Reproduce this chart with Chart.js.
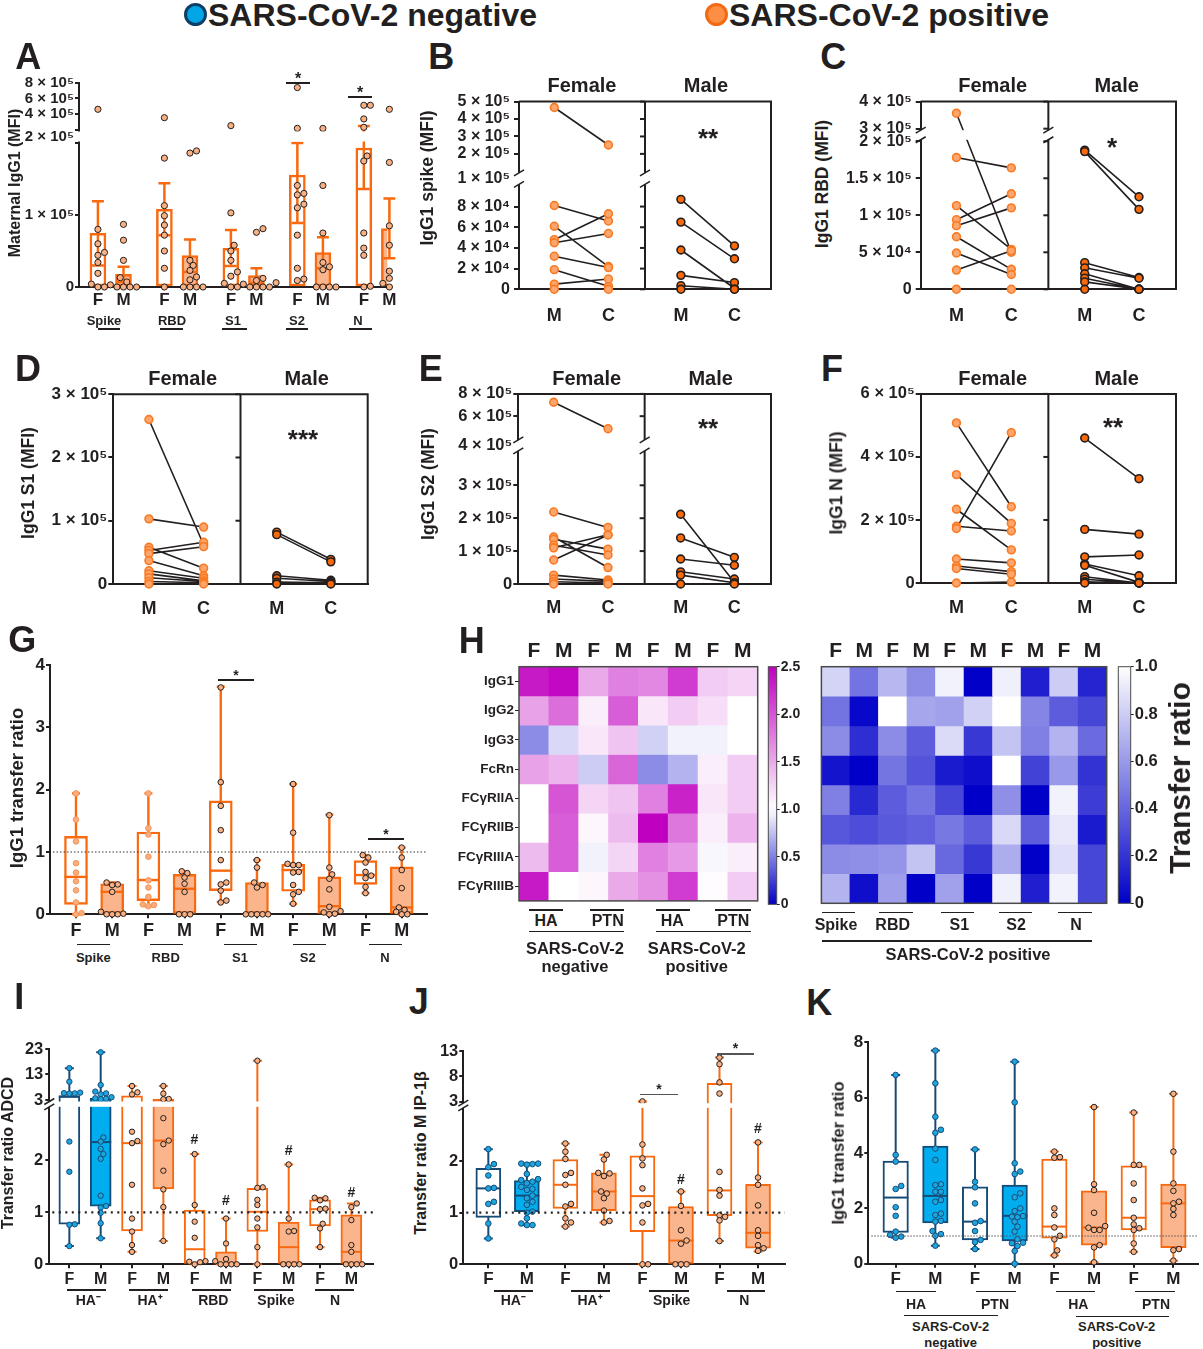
<!DOCTYPE html>
<html>
<head>
<meta charset="utf-8">
<title>Maternal IgG1 transfer</title>
<script src="https://cdn.jsdelivr.net/npm/chart.js@4.4.1/dist/chart.umd.min.js"></script>
<style>
  html, body { margin: 0; padding: 0; background: #fff; }
  body { position: relative; width: 1203px; height: 1349px; overflow: hidden;
         font-family: 'Liberation Sans', Arial, sans-serif; font-weight: bold; color: #231f20; }
  canvas { position: absolute; }
  .t { position: absolute; white-space: nowrap; line-height: 1; }
</style>
</head>
<body>
<script>
// ---------- panel A: maternal IgG1 (mean bar, error caps, donors)
const aAntigens = ['Spike', 'RBD', 'S1', 'S2', 'N'];
const aMean = [74600, 17600, 108000, 43500, 53700, 16000, 155500, 47700, 193000, 81000];
const aErrHi = [119000, 28000, 144000, 66000, 79000, 26000, 200000, 69000, 250000, 123000];
const aErrLo = [30000, 7000, 72000, 21000, 29000, 6000, 89000, 26000, 136000, 40000];
const aPoints = [
  [462000, 80000, 60000, 48000, 44000, 34000, 19000, 4000, 0, 0],
  [87000, 65000, 37000, 13000, 7000, 3000, 0, 0, 0, 0],
  [356000, 179000, 113000, 99000, 86000, 72000, 50000, 26000, 0],
  [189000, 186000, 37000, 30000, 23000, 14000, 10000, 0, 0, 0, 0],
  [255000, 103000, 58000, 50000, 37000, 21000, 15000, 5000, 0, 0],
  [81000, 76000, 12000, 9000, 6000, 4000, 0, 0, 0, 0],
  [737000, 221000, 141000, 130000, 128000, 115000, 110000, 72000, 26000, 11000, 9000],
  [220000, 141000, 75000, 34000, 28000, 24000, 0, 0, 0, 0],
  [513000, 513000, 340000, 234000, 182000, 175000, 75000, 54000, 44000, 1000, 0],
  [462000, 173000, 85000, 65000, 58000, 22000, 16000, 12000, 5000, 0, 0]
];
const aTicks = [[0, '0'], [1e5, '1 × 10⁵'], [2e5, ''], [150.5, '2 × 10⁵', 'g'], [157, '', 'd'], [4e5, '4 × 10⁵'], [6e5, '6 × 10⁵'], [8e5, '8 × 10⁵']];

// ---------- panels B-F: maternal (M) vs cord (C), paired
const pairLabels = ['M', 'C', 'M', 'C'];
const bFemM = [466000, 81000, 61000, 48000, 45000, 32000, 19000, 5000, 0];
const bFemC = [251000, 66000, 22000, 73000, 54000, 21000, 3000, 10000, 0];
const bMalM = [87000, 65000, 38000, 13500, 3500, 0];
const bMalC = [42000, 29500, 1000, 6500, 0, 0];
const bTicks = [[0, '0'], [2e4, '2 × 10⁴'], [4e4, '4 × 10⁴'], [6e4, '6 × 10⁴'], [8e4, '8 × 10⁴'], [111.7, '1 × 10⁵', 'g'], [2e5, '2 × 10⁵'], [3e5, '3 × 10⁵'], [4e5, '4 × 10⁵'], [5e5, '5 × 10⁵']];

const cFemM = [357000, 178000, 113000, 94000, 86000, 71000, 49000, 26000, 0];
const cFemC = [50000, 164000, 54000, 129000, 110000, 27000, 20000, 52000, 0];
const cMalM = [188000, 186000, 36000, 29000, 21000, 15000, 10000, 0];
const cMalC = [125000, 108000, 16000, 15000, 0, 0, 0, 0];
const cTicks = [[0, '0'], [5e4, '5 × 10⁴'], [1e5, '1 × 10⁵'], [1.5e5, '1.5 × 10⁵'], [2e5, '2 × 10⁵'], [3e5, '3 × 10⁵'], [4e5, '4 × 10⁵']];

const dFemM = [260000, 103000, 58000, 53000, 48000, 37000, 21000, 16000, 10000, 4000, 0];
const dFemC = [62000, 90000, 25000, 66000, 59000, 13000, 9000, 5000, 4000, 2000, 0];
const dMalM = [82000, 78000, 13000, 9000, 3000, 0];
const dMalC = [39000, 35000, 6000, 4000, 2000, 0];
const dTicks = [[0, '0'], [1e5, '1 × 10⁵'], [2e5, '2 × 10⁵'], [3e5, '3 × 10⁵']];

const eFemM = [725000, 219000, 143000, 136000, 118000, 110000, 73000, 27000, 15000, 7000, 0];
const eFemC = [487000, 172000, 50000, 106000, 88000, 150000, 149000, 12000, 8000, 3000, 0];
const eMalM = [212000, 140000, 76000, 37000, 27000, 0];
const eMalC = [5000, 81000, 57000, 15000, 4000, 0];
const eTicks = [[0, '0'], [1e5, '1 × 10⁵'], [2e5, '2 × 10⁵'], [3e5, '3 × 10⁵'], [139, '4 × 10⁵', 'g'], [6e5, '6 × 10⁵'], [8e5, '8 × 10⁵']];

const fFemM = [508000, 344000, 234000, 180000, 173000, 76000, 54000, 46000, 0];
const fFemC = [242000, 189000, 105000, 165000, 477000, 64000, 36000, 28000, 3000];
const fMalM = [460000, 170000, 83000, 60000, 56000, 20000, 12000, 4000, 0];
const fMalC = [331000, 155000, 89000, 23000, 2000, 0, 0, 0, 0];
const fTicks = [[0, '0'], [2e5, '2 × 10⁵'], [4e5, '4 × 10⁵'], [6e5, '6 × 10⁵']];

// ---------- panel G: IgG1 transfer ratio, box = [min, q1, median, q3, max]
const gAntigens = ['Spike', 'RBD', 'S1', 'S2', 'N'];
const gBoxes = [
  [0, 0.16, 0.60, 1.25, 1.94], [0, 0, 0.36, 0.49, 0.51],
  [0.13, 0.22, 0.55, 1.32, 1.94], [0, 0, 0.41, 0.64, 0.69],
  [0.20, 0.38, 0.70, 1.82, 3.65], [0, 0, 0, 0.51, 0.87],
  [0.17, 0.37, 0.71, 0.80, 2.09], [0, 0, 0.13, 0.60, 1.60],
  [0.34, 0.48, 0.63, 0.86, 0.95], [0, 0, 0.11, 0.76, 1.07]
];
const gPoints = [
  [1.94, 1.52, 1.17, 0.82, 0.67, 0.53, 0.385, 0.19, 0.02, 0],
  [0.51, 0.48, 0.47, 0.36, 0.04, 0.01, 0, 0, 0],
  [1.94, 1.38, 1.28, 0.925, 0.545, 0.43, 0.28, 0.16, 0.15, 0.13],
  [0.69, 0.66, 0.59, 0.49, 0.36, 0, 0, 0],
  [3.64, 2.12, 1.74, 1.35, 0.87, 0.51, 0.48, 0.38, 0.22, 0.19],
  [0.87, 0.75, 0.51, 0.47, 0.43, 0, 0, 0, 0, 0],
  [2.09, 1.31, 0.81, 0.79, 0.79, 0.68, 0.67, 0.47, 0.36, 0.32, 0.17],
  [1.59, 0.75, 0.64, 0.57, 0.40, 0.12, 0.05, 0.03, 0.01, 0],
  [0.95, 0.91, 0.83, 0.68, 0.62, 0.58, 0.44, 0.34],
  [1.07, 0.91, 0.71, 0.42, 0.11, 0.07, 0.04, 0, 0]
];
const gTicks = [[0, '0'], [1, '1'], [2, '2'], [3, '3'], [4, '4']];

// ---------- panel H: heatmaps of transfer ratio
const hRows = ['IgG1', 'IgG2', 'IgG3', 'FcRn', 'FCγRIIA', 'FCγRIIB', 'FCγRIIIA', 'FCγRIIIB'];
const hLeftCols = ['F', 'M', 'F', 'M', 'F', 'M', 'F', 'M'];
const hLeftVals = [
  [2.35, 2.45, 1.50, 1.75, 1.70, 2.15, 1.30, 1.25],
  [1.55, 1.85, 1.10, 1.95, 1.15, 1.30, 1.20, 1.00],
  [0.55, 0.85, 1.15, 1.35, 0.82, 0.95, 0.95, 1.00],
  [1.55, 1.45, 0.80, 1.90, 0.55, 0.70, 1.10, 1.30],
  [1.00, 2.00, 1.25, 1.35, 1.75, 2.30, 1.15, 1.30],
  [1.00, 1.95, 1.05, 1.40, 2.50, 1.80, 1.10, 1.45],
  [1.40, 1.95, 0.95, 1.25, 1.75, 1.60, 0.97, 1.10],
  [2.35, 1.00, 1.05, 1.50, 1.65, 2.15, 1.02, 1.30]
];
const hRightCols = ['F', 'M', 'F', 'M', 'F', 'M', 'F', 'M', 'F', 'M'];
const hRightVals = [
  [0.83, 0.45, 0.72, 0.55, 0.95, 0.00, 0.94, 0.12, 0.80, 0.14],
  [0.45, 0.03, 1.00, 0.65, 0.63, 0.82, 1.00, 0.52, 0.36, 0.28],
  [0.55, 0.18, 0.55, 0.36, 0.86, 0.22, 0.77, 0.50, 0.70, 0.42],
  [0.08, 0.00, 0.46, 0.33, 0.10, 0.06, 1.00, 0.26, 0.60, 0.20],
  [0.50, 0.16, 0.36, 0.45, 0.28, 0.00, 0.56, 0.00, 0.95, 0.24],
  [0.34, 0.30, 0.35, 0.38, 0.47, 0.36, 0.85, 0.36, 0.91, 0.10],
  [0.55, 0.56, 0.58, 0.77, 0.41, 0.22, 0.68, 0.00, 0.87, 0.28],
  [0.70, 0.06, 0.62, 0.00, 0.63, 0.00, 0.94, 0.12, 0.95, 0.28]
];

// ---------- panel I: transfer ratio ADCD
const iGroups = ['HA⁻', 'HA⁺', 'RBD', 'Spike', 'N'];
const iBoxes = [
  [0.35, 0.77, 4.4, 4.5, 15.5], [0.5, 1.12, 2.35, 3.66, 21.7],
  [0.24, 0.64, 2.33, 4.6, 8.5], [0.45, 1.45, 2.38, 3.26, 8.5],
  [0, 0, 0.29, 1.045, 2.12], [0, 0, 0, 0.24, 0.88],
  [0, 0.63, 1.01, 1.46, 18.4], [0, 0, 0.33, 0.81, 1.92],
  [0.33, 0.74, 1.06, 1.24, 1.28], [0, 0, 0.24, 0.95, 1.17]
];
const iPoints = [
  [15.5, 10.2, 5.9, 5.6, 5.5, 5.7, 2.36, 1.78, 0.77, 0.76, 0.35],
  [21.7, 8.9, 6.3, 5.6, 5.2, 4.1, 3.66, 3.5, 3.3, 2.44, 2.36, 2.22, 2.12, 2.03, 1.32, 1.12, 1.09, 0.99, 0.79, 0.5],
  [8.5, 6.0, 5.2, 2.55, 2.37, 2.33, 1.53, 0.88, 0.63, 0.37, 0.24],
  [8.5, 5.5, 3.4, 3.3, 2.81, 2.38, 2.31, 1.8, 1.44, 1.1, 0.45],
  [2.12, 1.14, 0.82, 0.51, 0.06, 0.05, 0.04, 0],
  [0.88, 0.4, 0.1, 0.06, 0, 0, 0, 0],
  [18.4, 1.48, 1.47, 1.24, 1.14, 0.88, 0.71, 0.33, 0],
  [1.92, 0.88, 0.64, 0.63, 0, 0, 0, 0],
  [1.28, 1.27, 1.23, 1.07, 1.06, 0.78, 0.69, 0.33],
  [1.17, 1.1, 0.85, 0.37, 0.24, 0, 0, 0, 0]
];
const iTicks = [[0, '0'], [1, '1'], [2, '2'], [164.3, '3', 'd'], [13, '13'], [23, '23']];

// ---------- panel J: transfer ratio MIP-1β
const jGroups = ['HA⁻', 'HA⁺', 'Spike', 'N'];
const jBoxes = [
  [0.5, 0.91, 1.47, 1.86, 2.23], [0.76, 1.02, 1.33, 1.62, 1.95],
  [0.73, 1.08, 1.54, 2.03, 2.34], [0.81, 1.04, 1.41, 1.77, 2.12],
  [0, 0.63, 1.32, 2.1, 3.05], [0, 0, 0.46, 1.12, 1.41],
  [0.45, 0.94, 1.43, 6.6, 11.7], [0.25, 0.31, 0.61, 1.55, 2.36]
];
const jPoints = [
  [2.23, 1.94, 1.88, 1.72, 1.48, 1.47, 1.21, 1.17, 0.79, 0.5],
  [1.95, 1.95, 1.94, 1.93, 1.75, 1.65, 1.63, 1.6, 1.57, 1.5, 1.46, 1.44, 1.33, 1.28, 1.21, 1.15, 1.02, 1.0, 0.89, 0.79, 0.76, 0.76],
  [2.34, 2.18, 2.04, 1.77, 1.73, 1.54, 1.17, 1.12, 0.89, 0.81, 0.73],
  [2.12, 2.03, 1.77, 1.76, 1.71, 1.41, 1.37, 1.28, 1.04, 0.84, 0.81],
  [3.05, 2.32, 2.05, 1.92, 1.47, 1.17, 1.14, 0.81, 0, 0],
  [1.41, 1.13, 0.66, 0.46, 0.4, 0, 0, 0],
  [11.7, 10.4, 6.8, 4.6, 1.79, 1.44, 1.33, 0.95, 0.92, 0.85, 0.45],
  [2.36, 1.68, 1.54, 1.14, 0.66, 0.55, 0.37, 0.31, 0.26]
];
const jTicks = [[0, '0'], [1, '1'], [2, '2'], [162.7, '3', 'd'], [8, '8'], [13, '13']];

// ---------- panel K: IgG1 transfer ratio, HA / PTN
const kGroups = ['HA', 'PTN', 'HA', 'PTN'];
const kBoxes = [
  [0.94, 1.13, 2.39, 3.71, 6.82], [0.65, 1.47, 2.45, 4.25, 7.7],
  [0.53, 0.86, 1.52, 2.78, 4.13], [0, 0.82, 1.73, 2.84, 7.3],
  [0.3, 0.92, 1.34, 3.78, 4.05], [0.05, 0.67, 1.31, 2.63, 5.66],
  [0.43, 1.22, 1.66, 3.54, 5.46], [0.11, 0.58, 2.18, 2.88, 6.14]
];
const kPoints = [
  [6.82, 3.93, 3.69, 2.81, 2.7, 2.04, 1.73, 1.16, 1.04, 0.98, 0.94],
  [7.7, 6.52, 5.31, 4.84, 4.73, 4.16, 3.75, 2.87, 2.84, 2.6, 2.6, 2.3, 2.24, 1.81, 1.76, 1.55, 1.52, 1.18, 1.07, 1.01, 0.65],
  [4.13, 2.96, 2.76, 2.18, 1.54, 1.48, 1.18, 0.86, 0.78, 0.53],
  [7.3, 5.83, 3.63, 3.33, 3.24, 2.54, 2.4, 2.0, 1.9, 1.72, 1.7, 1.68, 1.52, 1.34, 1.16, 0.88, 0.76, 0.74, 0.64, 0.46, 0],
  [4.05, 3.83, 3.85, 2.0, 1.76, 1.31, 1.01, 0.88, 0.48, 0.3],
  [5.66, 2.87, 2.66, 1.84, 1.36, 1.3, 1.22, 1.22, 0.67, 0.59, 0.05],
  [5.46, 3.57, 3.57, 2.9, 2.3, 1.66, 1.42, 1.28, 1.22, 0.73, 0.43],
  [6.14, 4.05, 2.9, 2.63, 2.24, 2.18, 1.98, 1.76, 0.53, 0.49, 0.11]
];
const kTicks = [[0, '0'], [2, '2'], [4, '4'], [6, '6'], [8, '8']];

// ---------- colours
const INK = '#231f20';
const ORANGE = '#F96A10';
const LIGHT = '#FBB58D';
const PT_FILL = '#F9B184';
const PALE_PT = '#F9AC7C';
const PALE_EDGE = '#F5955A';
const NAVY = '#174B77';
const BLUE = '#00AEEF';
const BLUE_PT = '#1DA6DE';
const FEM_FILL = '#FBA66E';
const FEM_EDGE = '#FA7A22';
const MAL_FILL = '#F86A0C';
const DEEP = [0, 0, 200], WHITE = [255, 255, 255], MAG = [192, 0, 192];

Chart.defaults.font.family = "'Liberation Sans', Arial, sans-serif";
Chart.defaults.font.weight = 'bold';
Chart.defaults.color = INK;

function mix(a, b, t) {
  t = Math.max(0, Math.min(1, t));
  return 'rgb(' + a.map((v, i) => Math.round(v + (b[i] - v) * t)).join(',') + ')';
}
function heatLeft(v) { return v <= 1 ? mix(DEEP, WHITE, v) : mix(WHITE, MAG, (v - 1) / 1.5); }
function heatRight(v) { return mix(DEEP, WHITE, v); }

// piecewise value -> pixel-units mapping for broken axes
function mapper(segs) {
  return v => {
    let s = segs[segs.length - 1];
    for (const q of segs) { if (v <= q[1]) { s = q; break; } }
    return s[2] + (v - s[0]) / (s[1] - s[0]) * (s[3] - s[2]);
  };
}
const lin = v => v;

// decorations: frames, axis breaks, reference line, colour bars
const deco = {
  id: 'deco',
  beforeDatasetsDraw(chart) {
    const o = chart.canvas._deco;
    if (!o || !o.gradient) return;
    const { ctx, chartArea: a } = chart;
    const g = ctx.createLinearGradient(0, a.bottom, 0, a.top);
    for (let i = 0; i <= 24; i++) g.addColorStop(i / 24, o.gradient(i / 24 * o.gmax));
    ctx.fillStyle = g;
    ctx.fillRect(a.left, a.top, a.right - a.left, a.bottom - a.top);
  },
  afterDatasetsDraw(chart) {
    const o = chart.canvas._deco;
    if (!o) return;
    const { ctx, chartArea: a } = chart;
    const x = chart.scales.x, y = chart.scales.y;
    ctx.save();
    if (o.hline !== undefined) {
      const py = y.getPixelForValue(o.hline);
      ctx.strokeStyle = o.hlColor; ctx.lineWidth = o.hlW; ctx.setLineDash(o.hlDash);
      ctx.beginPath(); ctx.moveTo(a.left + 3, py); ctx.lineTo(a.right, py); ctx.stroke();
      ctx.setLineDash([]);
    }
    const gaps = (o.gaps || []).map(g => [y.getPixelForValue(g[0]), y.getPixelForValue(g[1])]);
    gaps.forEach(([p0, p1]) => {
      ctx.fillStyle = '#fff';
      const right = o.frame ? a.right - 1.5 : a.right + 2;
      ctx.fillRect(a.left - 3, p1 + 1.5, right - a.left + 3, p0 - p1 - 3);
    });
    ctx.strokeStyle = INK; ctx.lineWidth = 2;
    if (o.frame) {
      ctx.beginPath(); ctx.moveTo(a.left, a.top); ctx.lineTo(a.right, a.top); ctx.lineTo(a.right, a.bottom); ctx.stroke();
      const dx = x.getPixelForValue(o.divider);
      let segs = [[a.top, a.bottom]];
      gaps.forEach(([p0, p1]) => { segs = [[a.top, p1 + 1.5], [p0 - 1.5, a.bottom]]; });
      segs.forEach(s => { ctx.beginPath(); ctx.moveTo(dx, s[0]); ctx.lineTo(dx, s[1]); ctx.stroke(); });
      y.ticks.forEach(t => {
        if (t.nm) return;
        const py = y.getPixelForValue(t.value);
        ctx.beginPath(); ctx.moveTo(dx - 5, py); ctx.lineTo(dx, py); ctx.stroke();
      });
    }
    if (o.box) {
      ctx.strokeStyle = o.boxColor || INK; ctx.lineWidth = o.boxW || 1.5;
      ctx.strokeRect(a.left, a.top, a.right - a.left, a.bottom - a.top);
    }
    if (o.slash) {
      const xs = [a.left].concat(o.frame ? [x.getPixelForValue(o.divider)] : []);
      ctx.lineWidth = 1.5; ctx.strokeStyle = INK;
      gaps.forEach(([p0, p1]) => xs.forEach(px => [p0 - 1.5, p1 + 1.5].forEach(py => {
        ctx.beginPath(); ctx.moveTo(px - 5, py + 3); ctx.lineTo(px + 5, py - 3); ctx.stroke();
      })));
    }
    ctx.restore();
  }
};
Chart.register(deco);

// ---------- helpers
function canvasAt(b) {
  const c = document.createElement('canvas');
  c.width = b[2]; c.height = b[3];
  c.style.left = b[0] + 'px'; c.style.top = b[1] + 'px';
  document.body.appendChild(c);
  return c;
}
function geo(box, plot) {
  return {
    yW: plot[0] - box[0],
    xH: box[1] + box[3] - plot[3],
    padding: { left: 0, top: plot[1] - box[1], right: box[0] + box[2] - plot[2], bottom: 0 }
  };
}
function base(g, x, y) {
  return {
    responsive: false, animation: false, events: [],
    layout: { padding: g.padding },
    plugins: { legend: { display: false }, tooltip: { enabled: false } },
    scales: { x, y }
  };
}
function yAxis(max, list, map, w, size, tl, pad) {
  const objs = list.map(t => ({ value: t[2] ? t[0] : map(t[0]), lbl: t[1], nm: t[2] === 'g' }));
  return {
    type: 'linear', min: 0, max,
    afterBuildTicks: s => { s.ticks = objs.map(o => Object.assign({}, o)); },
    afterFit: s => { s.width = w; },
    ticks: { autoSkip: false, padding: pad, font: { size }, color: INK, callback: (v, i, t) => t[i].lbl },
    grid: { drawOnChartArea: false, drawTicks: true, tickLength: tl, lineWidth: 2,
            color: c => (c.tick && c.tick.nm) ? 'rgba(0,0,0,0)' : INK },
    border: { display: true, color: INK, width: 2 }
  };
}
function xAxis(min, max, pos, labels, h, size, tl, pad) {
  const objs = pos.map((p, i) => ({ value: p, lbl: labels[i] }));
  return {
    type: 'linear', min, max, offset: false,
    afterBuildTicks: s => { s.ticks = objs.map(o => Object.assign({}, o)); },
    afterFit: s => { s.height = h; },
    ticks: { autoSkip: false, maxRotation: 0, minRotation: 0, padding: pad, font: { size }, color: INK,
             callback: (v, i, t) => t[i].lbl },
    grid: { drawOnChartArea: false, drawTicks: tl > 0, tickLength: tl, lineWidth: 2, color: INK, offset: false },
    border: { display: true, color: INK, width: 2 }
  };
}
function gap(x) { return { x, y: null }; }
function lineDs(data, color, w, order) {
  return { type: 'line', data, borderColor: color, borderWidth: w, pointRadius: 0, fill: false,
           spanGaps: false, order, tension: 0, clip: false, borderCapStyle: 'butt' };
}
function ptDs(data, r, fill, stroke, bw) {
  return { type: 'line', showLine: false, data, pointRadius: r, pointBorderWidth: bw,
           pointBackgroundColor: fill, pointBorderColor: stroke, order: 1, clip: false };
}
// spread overlapping dots sideways (beeswarm), ys in pixels
function swarm(ys, dcol, pxX) {
  const order = ys.map((_, i) => i).sort((a, b) => ys[a] - ys[b]);
  const placed = [], off = ys.map(() => 0), step = dcol * 0.5;
  order.forEach(i => {
    for (let k = 0; k < 80; k++) {
      const o = k === 0 ? 0 : (k % 2 ? 1 : -1) * Math.ceil(k / 2) * step;
      if (placed.every(p => (p[0] - o) ** 2 + (p[1] - ys[i]) ** 2 >= dcol * dcol * 0.8)) {
        off[i] = o / pxX; placed.push([o, ys[i]]); return;
      }
    }
  });
  return off;
}
function orangeStyle(i, pale) {
  return { fill: i % 2 ? LIGHT : '#fff', stroke: ORANGE, ptFill: pale ? PALE_PT : PT_FILL, ptStroke: pale ? PALE_EDGE : INK };
}
function blueStyle(i) {
  return { fill: i % 2 ? BLUE : '#fff', stroke: NAVY, ptFill: BLUE_PT, ptStroke: NAVY };
}

// ---------- panel A
(function () {
  const box = [14, 60, 386, 282], plot = [79, 82.6, 390, 287], g = geo(box, plot);
  const c = canvasAt(box);
  c._deco = { gaps: [[144, 157]] };
  const map = mapper([[0, 2e5, 0, 144], [2e5, 8e5, 157, 204.4]]);
  const xr = [-0.74, 11.32];
  const xs = aMean.map((_, i) => Math.floor(i / 2) * 2.6 + (i % 2));
  const pxX = (plot[2] - plot[0]) / (xr[1] - xr[0]);
  const cap = 6 / pxX;
  const ds = [{ type: 'bar', data: aMean.map((m, i) => ({ x: xs[i], y: map(m) })),
                backgroundColor: xs.map((_, i) => i % 2 ? LIGHT : '#fff'), borderColor: ORANGE,
                borderWidth: 2.5, borderSkipped: false, barThickness: 16, grouped: false, order: 3 }];
  const err = [];
  aMean.forEach((m, i) => {
    const x = xs[i], hi = map(aErrHi[i]), lo = map(aErrLo[i]);
    err.push({ x, y: lo }, { x, y: hi }, gap(x), { x: x - cap, y: hi }, { x: x + cap, y: hi }, gap(x),
             { x: x - cap, y: lo }, { x: x + cap, y: lo }, gap(x));
  });
  ds.push(lineDs(err, ORANGE, 2.5, 2));
  aPoints.forEach((p, i) => {
    const off = swarm(p.map(map), 6.6, pxX);
    ds.push(ptDs(p.map((v, k) => ({ x: xs[i] + off[k], y: map(v) })), 3.1, PT_FILL, INK, 1));
  });
  new Chart(c, { type: 'bar', data: { datasets: ds },
    options: base(g, xAxis(xr[0], xr[1], xs, xs.map((_, i) => i % 2 ? 'M' : 'F'), g.xH, 17, 0, 3.6),
                  yAxis(204.4, aTicks, map, g.yW, 15, 4, 1)) });
})();

// ---------- panels B-F
function pairChart(o) {
  const g = geo(o.box, o.plot), c = canvasAt(o.box);
  c._deco = { frame: true, divider: 2, gaps: o.gaps || [], slash: !!o.gaps };
  const map = o.map, fx = [0.56, 1.42], mx = [2.57, 3.42];
  const seg = (a, b, xx) => a.flatMap((v, i) => [{ x: xx[0], y: map(v) }, { x: xx[1], y: map(b[i]) }, gap(xx[1])]);
  const mk = (data, fill, edge) => ({ type: 'line', data, borderColor: INK, borderWidth: 1.6, pointRadius: 3.9,
    pointBorderWidth: 1.6, pointBackgroundColor: fill, pointBorderColor: edge, clip: false, tension: 0, spanGaps: false });
  new Chart(c, { type: 'line',
    data: { datasets: [mk(seg(o.fm, o.fc, fx), FEM_FILL, FEM_EDGE), mk(seg(o.mm, o.mc, mx), MAL_FILL, INK)] },
    options: base(g, xAxis(0, 4, fx.concat(mx), pairLabels, g.xH, 18, 0, o.xpad),
                  yAxis(o.ymax, o.yt, map, g.yW, o.yf, 5, o.ypad)) });
}
pairChart({ box: [450, 88, 330, 242], plot: [519, 100, 771, 289.3], fm: bFemM, fc: bFemC, mm: bMalM, mc: bMalC,
  map: mapper([[0, 1e5, 0, 104.3], [1e5, 5e5, 119, 189.3]]), gaps: [[104.3, 119]], ymax: 189.3, yt: bTicks,
  yf: 16, ypad: 4, xpad: 15.8 });
pairChart({ box: [840, 88, 350, 242], plot: [920.7, 100, 1176, 289.3], fm: cFemM, fc: cFemC, mm: cMalM, mc: cMalC,
  map: mapper([[0, 2e5, 0, 149.3], [3e5, 4e5, 162, 189.3]]), gaps: [[149.3, 162]], ymax: 189.3, yt: cTicks,
  yf: 16, ypad: 4, xpad: 15.8 });
pairChart({ box: [36, 383, 344, 240], plot: [113.3, 393.3, 367.7, 584], fm: dFemM, fc: dFemC, mm: dMalM, mc: dMalC,
  map: mapper([[0, 3e5, 0, 190.7]]), ymax: 190.7, yt: dTicks, yf: 17, ypad: 1, xpad: 14.1 });
pairChart({ box: [440, 383, 340, 240], plot: [518.3, 393.3, 771, 584], fm: eFemM, fc: eFemC, mm: eMalM, mc: eMalC,
  map: mapper([[0, 4e5, 0, 132], [4e5, 8e5, 146, 190.7]]), gaps: [[132, 146]], ymax: 190.7, yt: eTicks,
  yf: 16.5, ypad: 1, xpad: 13.4 });
pairChart({ box: [845, 383, 345, 240], plot: [920.7, 393.3, 1176, 583], fm: fFemM, fc: fFemC, mm: fMalM, mc: fMalC,
  map: mapper([[0, 6e5, 0, 189.7]]), ymax: 189.7, yt: fTicks, yf: 16.5, ypad: 1, xpad: 14.4 });

// ---------- box plots G, I, J, K
function boxChart(o) {
  const g = geo(o.box, o.plot), c = canvasAt(o.box);
  c._deco = o.deco;
  const map = o.map, pyu = o.pyu || 1;
  const xs = o.boxes.map((_, i) => i);
  const pxX = (o.plot[2] - o.plot[0]) / (o.xr[1] - o.xr[0]);
  const half = o.bw / 2 / pxX, cap = o.cap / 2 / pxX;
  const bars = { type: 'bar', data: [], backgroundColor: [], borderColor: [], borderWidth: o.lw,
                 borderSkipped: false, barThickness: o.bw, grouped: false, order: 3 };
  const ds = [bars];
  o.boxes.forEach((b, i) => {
    const x = xs[i], st = o.style(i), q = b.map(map);
    bars.data.push({ x, y: [q[1], q[3]] });
    bars.backgroundColor.push(st.fill); bars.borderColor.push(st.stroke);
    ds.push(lineDs([{ x, y: q[0] }, { x, y: q[4] }, gap(x), { x: x - cap, y: q[0] }, { x: x + cap, y: q[0] }, gap(x),
                    { x: x - cap, y: q[4] }, { x: x + cap, y: q[4] }], st.stroke, o.lw, 4));
    ds.push(lineDs([{ x: x - half, y: q[2] }, { x: x + half, y: q[2] }], st.stroke, o.lw, 2));
    const off = swarm(o.pts[i].map(v => map(v) * pyu), o.dcol, pxX);
    ds.push(ptDs(o.pts[i].map((v, k) => ({ x: x + off[k], y: map(v) })), o.pr, st.ptFill, st.ptStroke, 1));
  });
  new Chart(c, { type: 'bar', data: { datasets: ds },
    options: base(g, xAxis(o.xr[0], o.xr[1], xs, xs.map(i => i % 2 ? 'M' : 'F'), g.xH, o.xf, 4, o.xpad),
                  yAxis(o.ymax, o.yt, map, g.yW, o.yf, 4, o.ypad)) });
}
boxChart({ box: [20, 650, 415, 295], plot: [50, 665, 426.7, 914.3], boxes: gBoxes, pts: gPoints, map: lin, pyu: 62.3,
  ymax: 4, yt: gTicks, xr: [-0.718, 9.69], bw: 23, cap: 8, lw: 2.4, pr: 2.8, dcol: 5.6, xf: 18, xpad: 1.8, yf: 17, ypad: 1,
  style: i => orangeStyle(i, i === 0 || i === 2), deco: { hline: 1, hlW: 1.2, hlDash: [1.5, 2], hlColor: '#333' } });

const iMap = mapper([[0, 3, 0, 156], [3, 23, 164.3, 215.3]]);
boxChart({ box: [10, 1035, 370, 260], plot: [49.3, 1049, 373.3, 1264.3], boxes: iBoxes, pts: iPoints, map: iMap,
  ymax: 215.3, yt: iTicks, xr: [-0.64, 9.70], bw: 21, cap: 9, lw: 2, pr: 2.7, dcol: 5.4, xf: 16, xpad: 1.2, yf: 16.5, ypad: 2,
  style: i => i < 2 ? blueStyle(i) : orangeStyle(i, false),
  deco: { hline: iMap(1), hlW: 2.2, hlDash: [2, 4.5], hlColor: INK, gaps: [[156, 164.3]], slash: true } });

const jMap = mapper([[0, 3, 0, 155], [3, 13, 162.7, 213.4]]);
boxChart({ box: [430, 1035, 362, 260], plot: [463.3, 1051, 785, 1264.3], boxes: jBoxes, pts: jPoints, map: jMap,
  ymax: 213.4, yt: jTicks, xr: [-0.65, 7.70], bw: 25, cap: 9, lw: 2, pr: 2.8, dcol: 5.6, xf: 17, xpad: 0.6, yf: 16.5, ypad: 1,
  style: i => i < 2 ? blueStyle(i) : orangeStyle(i, false),
  deco: { hline: jMap(1), hlW: 2.2, hlDash: [2, 4.5], hlColor: INK, gaps: [[155, 162.7]], slash: true } });

boxChart({ box: [840, 1030, 363, 265], plot: [868.3, 1042.3, 1200, 1263.7], boxes: kBoxes, pts: kPoints, map: lin, pyu: 27.7,
  ymax: 8, yt: kTicks, xr: [-0.69, 7.62], bw: 25.5, cap: 9, lw: 2, pr: 2.8, dcol: 5.6, xf: 17, xpad: 1.2, yf: 17, ypad: 1,
  style: i => i < 4 ? blueStyle(i) : orangeStyle(i, false),
  deco: { hline: 1, hlW: 1, hlDash: [1.5, 1.5], hlColor: '#555' } });

// ---------- heatmaps H
function heatChart(o) {
  const box = o.box, plot = o.plot, c = canvasAt(box);
  c._deco = { box: true, boxColor: '#4a4a4a', boxW: 1.5 };
  const rowObjs = hRows.map((r, i) => ({ value: i + 0.5, lbl: r }));
  new Chart(c, { type: 'bar',
    data: { labels: o.cols, datasets: o.vals.map(row => ({ data: row.map(() => 1), backgroundColor: row.map(o.color),
      borderWidth: 0, barPercentage: 1, categoryPercentage: 1, stack: 'h' })) },
    options: {
      responsive: false, animation: false, events: [],
      layout: { padding: { left: o.rows ? 0 : plot[0] - box[0], top: 0, right: box[0] + box[2] - plot[2], bottom: box[1] + box[3] - plot[3] } },
      plugins: { legend: { display: false }, tooltip: { enabled: false } },
      scales: {
        x: { type: 'category', position: 'top', stacked: true, offset: true,
             grid: { display: false, drawTicks: false }, border: { display: false },
             ticks: { font: { size: 21 }, padding: 3, color: INK, maxRotation: 0 }, afterFit: s => { s.height = plot[1] - box[1]; } },
        y: { type: 'linear', stacked: true, min: 0, max: hRows.length, reverse: true, display: o.rows,
             afterBuildTicks: s => { s.ticks = rowObjs.map(t => Object.assign({}, t)); },
             afterFit: s => { s.width = plot[0] - box[0]; },
             ticks: { autoSkip: false, font: { size: 13.5 }, padding: 1, color: INK, callback: (v, i, t) => t[i].lbl },
             grid: { drawOnChartArea: false, tickLength: 4, lineWidth: 1, color: INK }, border: { display: false } }
      }
    } });
}
heatChart({ box: [440, 626, 322, 284], plot: [519, 666.7, 757.7, 904.3], cols: hLeftCols, vals: hLeftVals, color: heatLeft, rows: true });
heatChart({ box: [800, 626, 312, 284], plot: [810.7, 666.7, 1106.7, 903.3], cols: hRightCols, vals: hRightVals, color: heatRight, rows: false });

function colorBar(o) {
  const box = o.box, plot = o.plot, c = canvasAt(box);
  c._deco = { gradient: o.color, gmax: o.max, box: true, boxColor: '#4a4a4a', boxW: 1 };
  new Chart(c, { type: 'bar', data: { labels: [''], datasets: [] },
    options: {
      responsive: false, animation: false, events: [],
      layout: { padding: { left: plot[0] - box[0], top: plot[1] - box[1], right: 0, bottom: box[1] + box[3] - plot[3] } },
      plugins: { legend: { display: false }, tooltip: { enabled: false } },
      scales: {
        x: { display: false },
        y: { type: 'linear', position: 'right', min: 0, max: o.max, afterFit: s => { s.width = box[0] + box[2] - plot[2]; },
             ticks: { stepSize: o.step, font: { size: o.size }, padding: 1, color: INK, callback: v => v === 0 ? '0' : v.toFixed(1) },
             grid: { drawOnChartArea: false, tickLength: 3, lineWidth: 1, color: INK }, border: { display: false } }
      }
    } });
}
colorBar({ box: [760, 650, 44, 265], plot: [768.3, 666.7, 776.7, 904.3], max: 2.5, step: 0.5, size: 14, color: heatLeft });
colorBar({ box: [1114, 650, 54, 265], plot: [1118.3, 666.7, 1130.7, 903.3], max: 1, step: 0.2, size: 16.5, color: heatRight });

// ---------- text and rules
function txt(s, x, y, size, o = {}) {
  const d = document.createElement('div');
  d.className = 't'; d.textContent = s;
  d.style.left = x + 'px'; d.style.top = y + 'px'; d.style.fontSize = size + 'px';
  if (o.c) d.style.color = o.c;
  d.style.transform = o.rot ? 'translate(-50%,-50%) rotate(-90deg)' : o.left ? 'translate(0,-50%)' : 'translate(-50%,-50%)';
  document.body.appendChild(d);
}
function rule(x1, x2, y, w = 1.5, c = INK) {
  const d = document.createElement('div');
  d.style.cssText = `position:absolute;left:${x1}px;top:${y - w / 2}px;width:${x2 - x1}px;height:${w}px;background:${c}`;
  document.body.appendChild(d);
}
function disc(x, y, d, fill, edge) {
  const e = document.createElement('div');
  e.style.cssText = `position:absolute;left:${x - d / 2}px;top:${y - d / 2}px;width:${d}px;height:${d}px;box-sizing:border-box;border-radius:50%;background:${fill};border:3px solid ${edge}`;
  document.body.appendChild(e);
}

// legend
disc(195, 14, 23, '#00A6E6', '#0E3E66');
txt('SARS-CoV-2 negative', 208, 14.5, 32, { left: true });
disc(716, 14, 23, '#FF8E45', '#F26A12');
txt('SARS-CoV-2 positive', 729, 14.5, 32, { left: true });

// panel letters
[['A', 28.3, 57], ['B', 441.3, 57], ['C', 833.3, 57], ['D', 28, 368.5], ['E', 430.8, 368.5], ['F', 832, 368.5],
 ['G', 22.2, 640], ['H', 471.7, 641], ['I', 19.3, 997], ['J', 418.7, 1002], ['K', 819.2, 1002.5]]
  .forEach(l => txt(l[0], l[1], l[2], 36));

// A
txt('Maternal IgG1 (MFI)', 15, 183, 16, { rot: true });
rule(286, 310, 83); txt('*', 298, 79, 16);
rule(348, 372, 97); txt('*', 360, 93, 16);
[[104, 97.7, 120], [172, 160, 182.7], [233, 221.7, 246.7], [297, 286, 308], [358, 349.3, 371.7]]
  .forEach((p, i) => { txt(aAntigens[i], p[0], 320, 13); rule(p[1], p[2], 329); });

// B-F
[['IgG1 spike (MFI)', 428.3, 178, 582, 706, 85, '**', 708, 137.5],
 ['IgG1 RBD (MFI)', 823.3, 184, 992.7, 1116.7, 85, '*', 1112, 146.5],
 ['IgG1 S1 (MFI)', 29.3, 483, 182.7, 306.7, 378, '***', 303, 438.5],
 ['IgG1 S2 (MFI)', 429.3, 484, 586.7, 710.7, 378, '**', 708, 427.5],
 ['IgG1 N (MFI)', 836.7, 483, 992.7, 1116.7, 378, '**', 1113, 426.5]].forEach(p => {
  txt(p[0], p[1], p[2], 17.5, { rot: true });
  txt('Female', p[3], p[5], 20); txt('Male', p[4], p[5], 20);
  txt(p[6], p[7], p[8], 26);
});

// G
txt('IgG1 transfer ratio', 17, 788, 18.5, { rot: true });
rule(218, 254, 680); txt('*', 236, 674.5, 14);
rule(367.7, 404, 839); txt('*', 386, 834, 14);
[[93.3, 77.3, 110], [165.7, 150, 182.7], [240, 224, 256.7], [307.7, 293.3, 326], [385, 369.3, 402.3]]
  .forEach((p, i) => { txt(gAntigens[i], p[0], 957.3, 13); rule(p[1], p[2], 944.3); });

// H
[['HA', 546, 529.3, 563.3], ['PTN', 607.7, 590, 624], ['HA', 672.3, 656, 690], ['PTN', 733.3, 715.3, 750.7]]
  .forEach(p => { txt(p[0], p[1], 921, 16); rule(p[2], p[3], 910); });
rule(529.3, 624, 931.7); rule(656, 750.7, 931.7);
txt('SARS-CoV-2', 575, 947.7, 16.5); txt('negative', 575, 966, 16.5);
txt('SARS-CoV-2', 696.7, 947.7, 16.5); txt('positive', 696.7, 966, 16.5);
[['Spike', 836, 821.7, 855], ['RBD', 892.7, 879, 912.7], ['S1', 959.3, 941, 974], ['S2', 1016, 999, 1032], ['N', 1076, 1058, 1091.7]]
  .forEach(p => { txt(p[0], p[1], 925, 16); rule(p[2], p[3], 912.3); });
rule(821.7, 1091.7, 941);
txt('SARS-CoV-2 positive', 968, 954.3, 16.5);
txt('Transfer ratio', 1180, 778, 30, { rot: true });

// I
txt('Transfer ratio ADCD', 8, 1152.5, 16, { rot: true });
[[88.3, 66.7, 106], [150, 129, 168.3], [213.3, 191.7, 231], [276, 254, 293.3], [335, 315, 354]]
  .forEach((p, i) => { txt(iGroups[i], p[0], 1300, 14); rule(p[1], p[2], 1290); });
[[194.3, 1139.3], [226, 1200], [288.7, 1150], [351.3, 1191.7]].forEach(p => txt('#', p[0], p[1], 14));

// J
txt('Transfer ratio M IP-1β', 420.7, 1152.5, 16, { rot: true });
[[513.3, 494.3, 533.3], [590, 570.7, 610], [671.7, 649.3, 689], [744.3, 726.7, 765]]
  .forEach((p, i) => { txt(jGroups[i], p[0], 1300, 14); rule(p[1], p[2], 1291); });
rule(640, 678.3, 1094.3, 1.5, '#555'); txt('*', 659, 1088.5, 14);
rule(716.7, 754.3, 1054, 1.5, '#555'); txt('*', 735.5, 1048, 14);
[[681, 1179.3], [758, 1128.3]].forEach(p => txt('#', p[0], p[1], 14));

// K
txt('IgG1 transfer ratio', 838.3, 1152.5, 16.5, { rot: true });
[[916, 896, 936], [995, 975.7, 1015.7], [1078.3, 1055.7, 1095.3], [1156, 1135.3, 1175.3]]
  .forEach((p, i) => { txt(kGroups[i], p[0], 1304.3, 14); rule(p[1], p[2], 1291.7); });
rule(904.3, 998.3, 1315.5); rule(1076, 1169.3, 1316.5);
txt('SARS-CoV-2', 950.7, 1326, 13); txt('negative', 950.7, 1341.5, 13);
txt('SARS-CoV-2', 1116.7, 1326, 13); txt('positive', 1116.7, 1341.5, 13);
</script>
</body>
</html>
